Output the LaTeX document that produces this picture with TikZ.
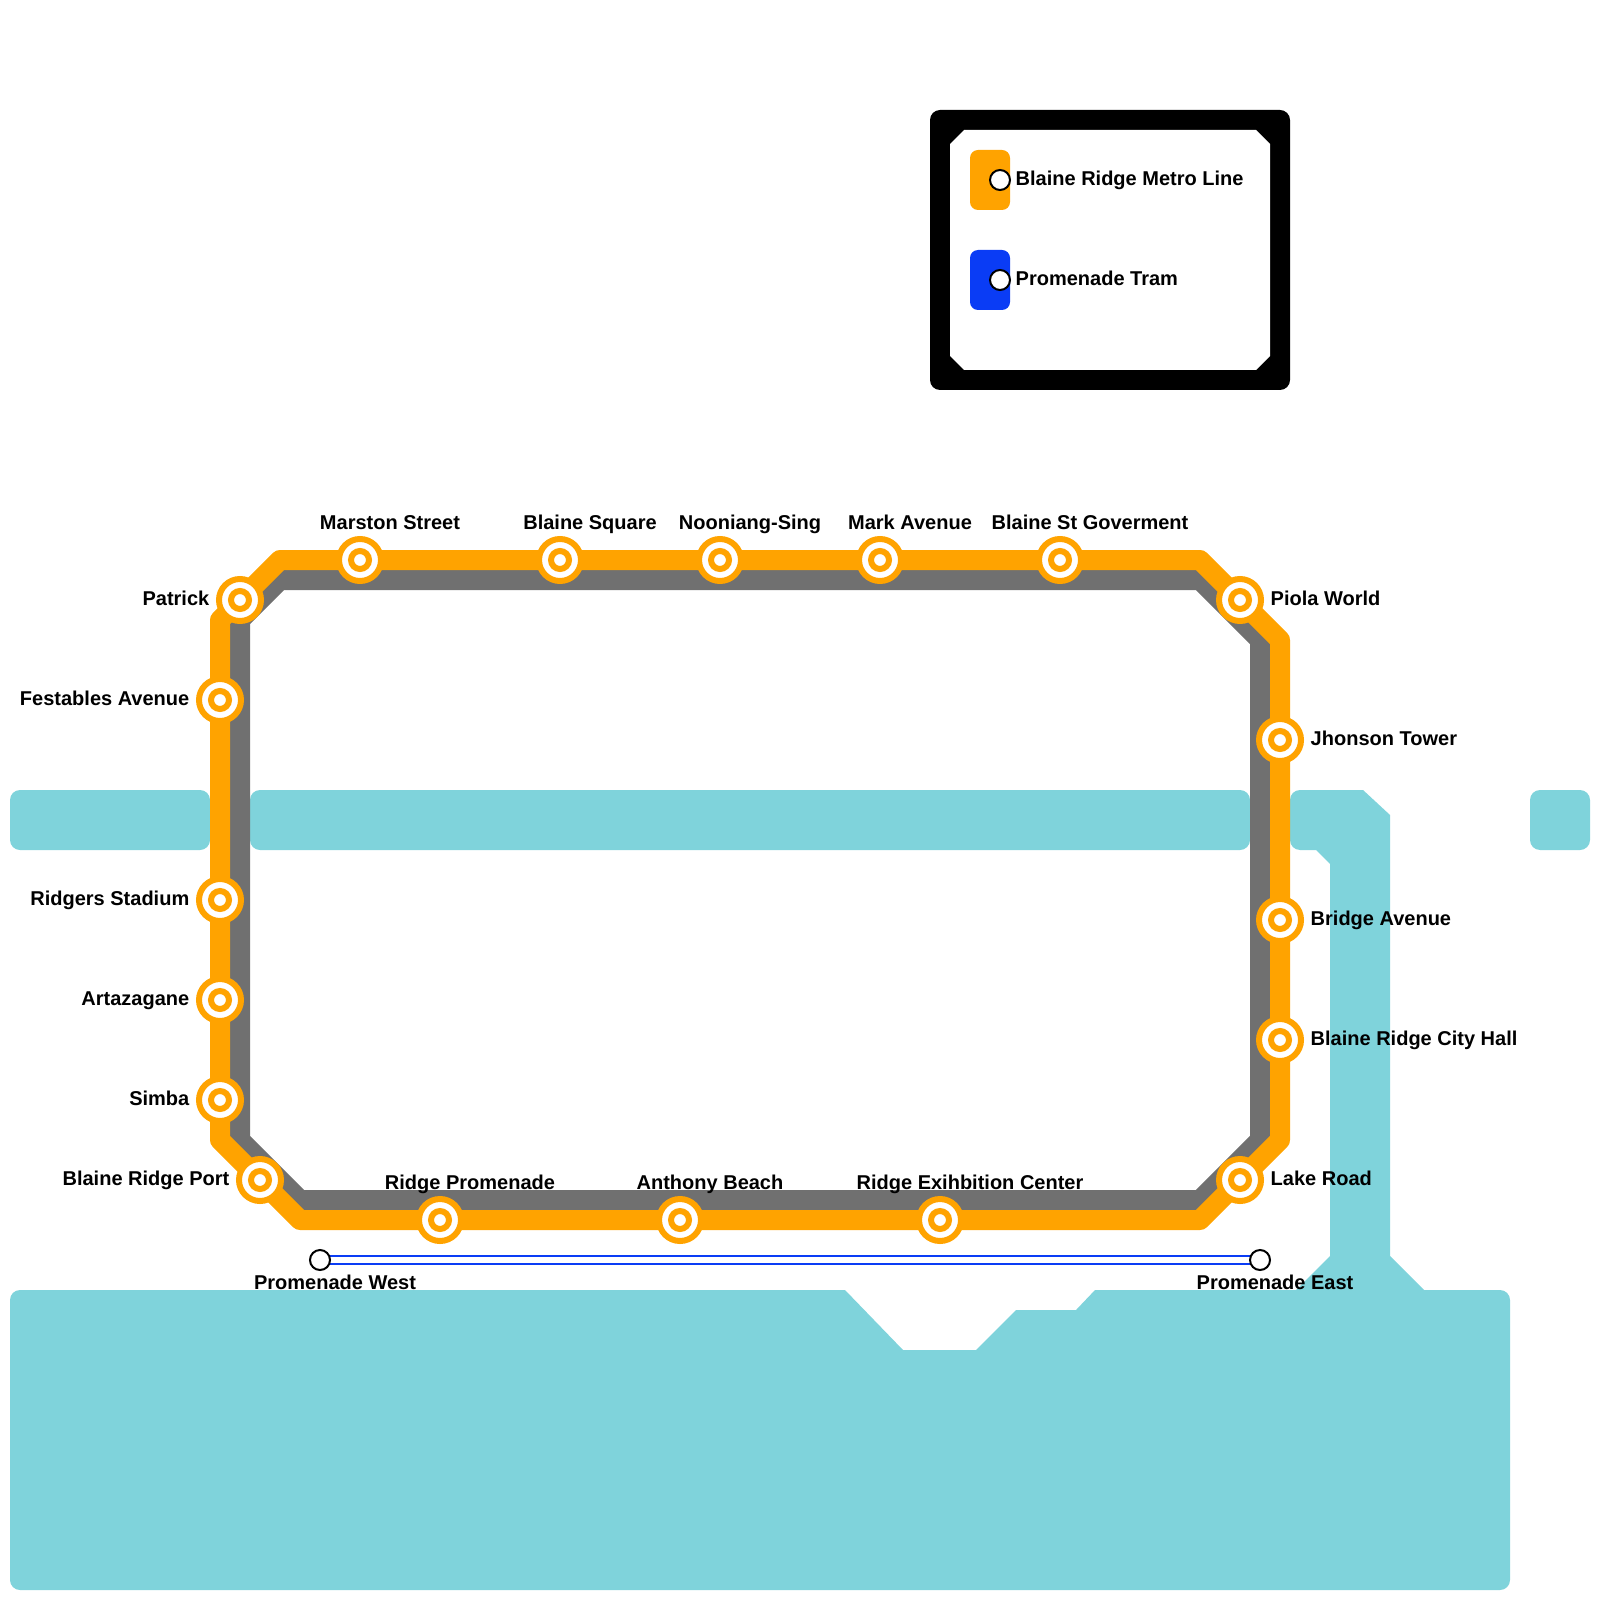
\documentclass[tikz,border=0pt]{standalone}
\usepackage{fontspec}
\setmainfont{Liberation Sans}
\usepackage{xcolor}
\usepackage{tikz}
\usetikzlibrary{backgrounds}
\definecolor{metrocol}{HTML}{FFA300}
\definecolor{shadowcol}{HTML}{707070}
\definecolor{watercol}{HTML}{7FD3DB}
\definecolor{tramcol}{HTML}{0A3CF5}

\begin{document}
\begin{tikzpicture}[
                water/.style={fill=watercol},
                station/.style={circle, draw=metrocol, fill=white, line width=0.06cm, minimum size=0.42cm, inner sep=0pt, outer sep=0pt,
                    path picture={\draw[metrocol, line width=0.06cm] (path picture bounding box.center) circle (0.09);}},
                stop/.style={circle, draw=black, fill=white, line width=0.02cm, minimum size=0.2cm, inner sep=0pt, outer sep=0pt},
                metroline/.style={draw=metrocol, line width=0.2cm, line join=round},
                shadowline/.style={draw=shadowcol, line width=0.2cm, line join=round},
                tramline/.style={draw=tramcol, line width=0.02cm, double=white, double distance=0.06cm},
                swatch/.style={rectangle, minimum width=0.4cm, minimum height=0.6cm, inner sep=0pt, rounded corners=0.08cm},
                place/.style={font=\fontsize{5.69}{7}\selectfont\bfseries, inner sep=0pt, text height=0.19cm, text depth=0.04cm}
                ]
                \useasboundingbox (0,0) rectangle (16,-16);

                % Legend box
                \fill[black, rounded corners=0.1cm] (9.3,-1.1) rectangle (12.9,-3.9);
                \fill[white] (9.5,-1.44) -- (9.64,-1.3) -- (12.56,-1.3) -- (12.7,-1.44) -- (12.7,-3.56) -- (12.56,-3.7) -- (9.64,-3.7) -- (9.5,-3.56) -- cycle;
                \node[swatch, fill=metrocol] (keymetro) at (9.9,-1.8) {};
                \node[swatch, fill=tramcol] (keytram) at (9.9,-2.8) {};
                \node[stop] (keymetrostop) at (10,-1.8) {};
                \node[stop] (keytramstop) at (10,-2.8) {};
                \node[place, anchor=west] (keymetrotext) at (10.15,-1.78) {Blaine Ridge Metro Line};
                \node[place, anchor=west] (keytramtext) at (10.15,-2.78) {Promenade Tram};

                % Corners of the two loops
                \coordinate (otl1) at (2.2,-6.2);
                \coordinate (otl2) at (2.8,-5.6);
                \coordinate (otr1) at (12,-5.6);
                \coordinate (otr2) at (12.8,-6.4);
                \coordinate (obr1) at (12.8,-11.4);
                \coordinate (obr2) at (12,-12.2);
                \coordinate (obl1) at (3,-12.2);
                \coordinate (obl2) at (2.2,-11.4);
                \coordinate (gtl1) at (2.4,-6.2);
                \coordinate (gtl2) at (2.8,-5.8);
                \coordinate (gtr1) at (12,-5.8);
                \coordinate (gtr2) at (12.6,-6.4);
                \coordinate (gbr1) at (12.6,-11.4);
                \coordinate (gbr2) at (12,-12);
                \coordinate (gbl1) at (3,-12);
                \coordinate (gbl2) at (2.4,-11.4);

                % Stations
                \node[station] (patrick) at (2.4,-6) {};
                \node[station] (marston) at (3.6,-5.6) {};
                \node[station] (blainesq) at (5.6,-5.6) {};
                \node[station] (nooniang) at (7.2,-5.6) {};
                \node[station] (markave) at (8.8,-5.6) {};
                \node[station] (goverment) at (10.6,-5.6) {};
                \node[station] (piola) at (12.4,-6) {};
                \node[station] (jhonson) at (12.8,-7.4) {};
                \node[station] (bridgeave) at (12.8,-9.2) {};
                \node[station] (cityhall) at (12.8,-10.4) {};
                \node[station] (lakeroad) at (12.4,-11.8) {};
                \node[station] (exhibition) at (9.4,-12.2) {};
                \node[station] (anthony) at (6.8,-12.2) {};
                \node[station] (promenade) at (4.4,-12.2) {};
                \node[station] (port) at (2.6,-11.8) {};
                \node[station] (simba) at (2.2,-11) {};
                \node[station] (artazagane) at (2.2,-10) {};
                \node[station] (ridgers) at (2.2,-9) {};
                \node[station] (festables) at (2.2,-7) {};

                % Tram stops
                \node[stop] (tramwest) at (3.2,-12.6) {};
                \node[stop] (trameast) at (12.6,-12.6) {};

                % Water and lines stay under the stations
                \begin{scope}[on background layer]
                \fill[water, rounded corners=0.1cm] (0.1,-7.9) rectangle (2.1,-8.5);
                \fill[water, rounded corners=0.1cm] (2.5,-7.9) rectangle (12.5,-8.5);
                \fill[water, rounded corners=0.1cm] (15.3,-7.9) rectangle (15.9,-8.5);
                \fill[water] (4,-12.9) [rounded corners=0.1cm] -- (0.1,-12.9) -- (0.1,-15.9) -- (15.1,-15.9) -- (15.1,-12.9) [sharp corners] -- (14.24,-12.9) -- (13.9,-12.56) -- (13.9,-8.15) -- (13.63,-7.9) [rounded corners=0.1cm] -- (12.9,-7.9) -- (12.9,-8.5) [sharp corners] -- (13.16,-8.5) -- (13.3,-8.64) -- (13.3,-12.56) -- (12.96,-12.9) -- (10.95,-12.9) -- (10.76,-13.1) -- (10.16,-13.1) -- (9.76,-13.5) -- (9.03,-13.5) -- (8.45,-12.9) -- cycle;

                \draw[shadowline] (gtl1) -- (gtl2) -- (gtr1) -- (gtr2) -- (gbr1) -- (gbr2) -- (gbl1) -- (gbl2) -- cycle;
                \draw[metroline] (otl1) -- (patrick.center) -- (otl2) -- (marston.center) -- (blainesq.center) -- (nooniang.center) -- (markave.center) -- (goverment.center) -- (otr1) -- (piola.center) -- (otr2) -- (jhonson.center) -- (bridgeave.center) -- (cityhall.center) -- (obr1) -- (lakeroad.center) -- (obr2) -- (exhibition.center) -- (anthony.center) -- (promenade.center) -- (obl1) -- (port.center) -- (obl2) -- (simba.center) -- (artazagane.center) -- (ridgers.center) -- (festables.center) -- cycle;
                \draw[tramline] (tramwest) -- (trameast);
                \end{scope}

                % Station names
                \node[place, anchor=east] (patricktext) at (2.1,-5.98) {Patrick};
                \node[place, anchor=east] (festablestext) at (1.9,-6.98) {Festables Avenue};
                \node[place, anchor=east] (ridgerstext) at (1.9,-8.98) {Ridgers Stadium};
                \node[place, anchor=east] (artazaganetext) at (1.9,-9.98) {Artazagane};
                \node[place, anchor=east] (simbatext) at (1.9,-10.98) {Simba};
                \node[place, anchor=east] (porttext) at (2.3,-11.78) {Blaine Ridge Port};
                \node[place] (marstontext) at (3.9,-5.22) {Marston Street};
                \node[place] (blainesqtext) at (5.9,-5.22) {Blaine Square};
                \node[place] (nooniangtext) at (7.5,-5.22) {Nooniang-Sing};
                \node[place] (markavetext) at (9.1,-5.22) {Mark Avenue};
                \node[place] (govermenttext) at (10.9,-5.22) {Blaine St Goverment};
                \node[place, anchor=west] (piolatext) at (12.7,-5.98) {Piola World};
                \node[place, anchor=west] (jhonsontext) at (13.1,-7.38) {Jhonson Tower};
                \node[place, anchor=west] (bridgeavetext) at (13.1,-9.18) {Bridge Avenue};
                \node[place, anchor=west] (cityhalltext) at (13.1,-10.38) {Blaine Ridge City Hall};
                \node[place, anchor=west] (lakeroadtext) at (12.7,-11.78) {Lake Road};
                \node[place] (promenadetext) at (4.7,-11.82) {Ridge Promenade};
                \node[place] (anthonytext) at (7.1,-11.82) {Anthony Beach};
                \node[place] (exhibitiontext) at (9.7,-11.82) {Ridge Exihbition Center};
                \node[place] (tramwesttext) at (3.35,-12.82) {Promenade West};
                \node[place] (trameasttext) at (12.75,-12.82) {Promenade East};
\end{tikzpicture}
\end{document}
